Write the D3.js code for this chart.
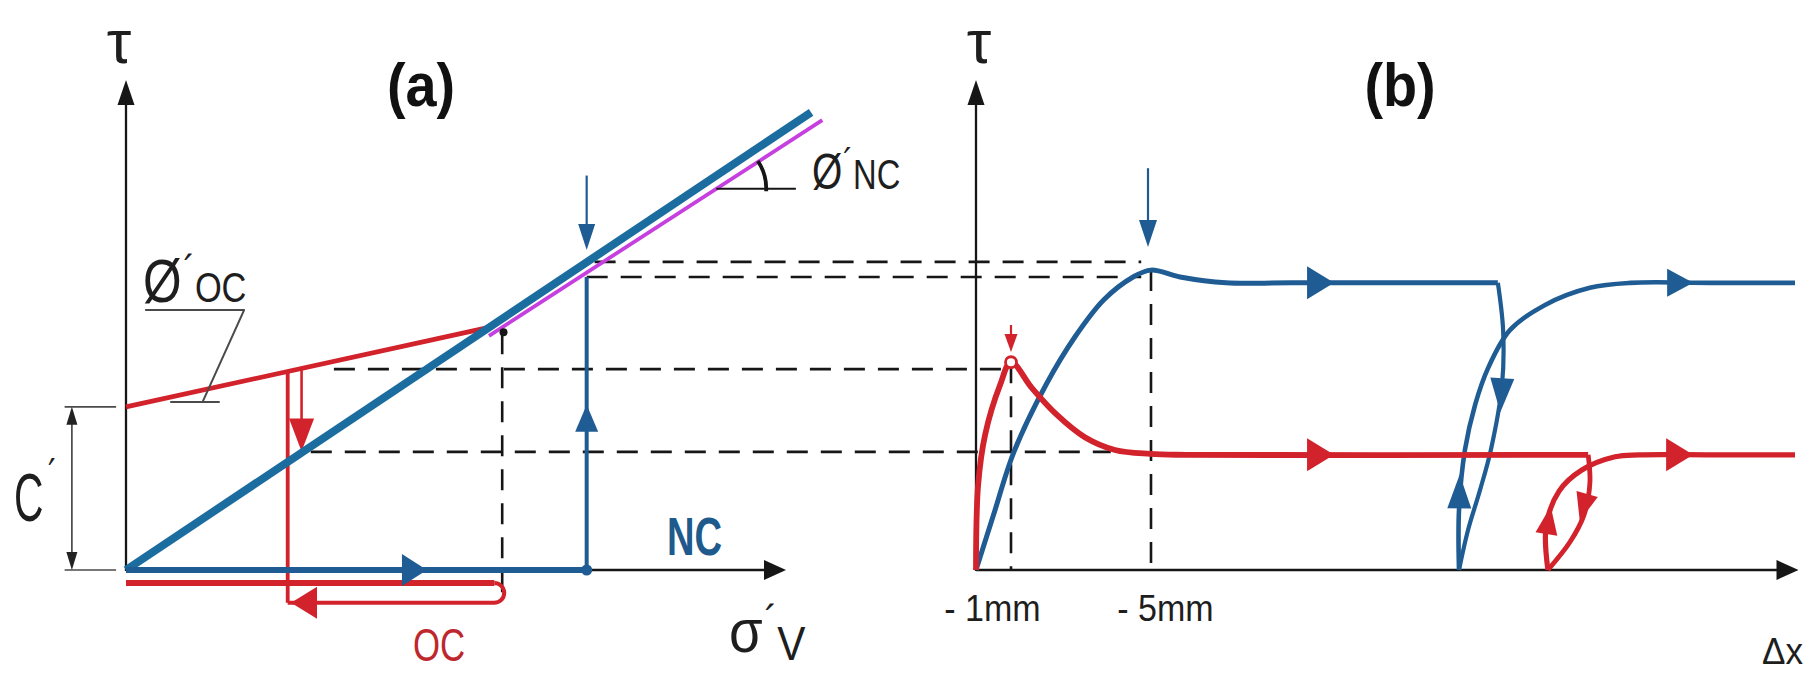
<!DOCTYPE html>
<html>
<head>
<meta charset="utf-8">
<script src="https://cdn.jsdelivr.net/npm/d3@7"></script>
<style>
  html, body { margin: 0; background: #fff; }
  svg { display: block; }
</style>
</head>
<body>
<script>
// ---------------- data ----------------
// Panel (a): shear stress τ versus effective vertical stress σ'v (schematic units)
const ncEnvelope      = [[0, 0], [10.38, 9.34]];        // NC failure envelope (φ'NC)
const ncCriticalLine  = [[5.5, 4.78], [10.55, 9.18]];   // line just under the NC envelope
const ocEnvelope      = [[0, 3.33], [5.5, 4.95]];       // OC envelope, intercept c'
const cPrime          = 3.33;

const ncLoadPath      = [[0, 0], [6.98, 0]];            // NC: consolidation along σ'v
const ncShearPath     = [[6.98, 0], [6.98, 5.98]];      // NC: shearing at constant σ'v
const ocLoadPath      = [[0, -0.265], [5.58, -0.265]];  // OC: loading
const ocUnloadLevel   = -0.67;                          // OC: unloading return line
const ocUnloadFrom    = 2.45;
const ocShearPath     = [[2.45, 4.05], [2.45, -0.67]];  // OC: shearing at constant σ'v
const ocShearInner    = [[2.66, 4.11], [2.66, 3.07]];
const ocPreconsol     = [[5.7, 4.83], [5.7, -0.67]];    // σ'p guide
const ocPreconsolDot  = [5.72, 4.85];

// Horizontal guides running from panel (a) (σ'v) into panel (b) (Δx)
const guideTau    = [6.29, 5.98, 4.10, 2.41];
const guideSigma0 = [7.10, 6.98, 3.15, 2.80];
const guideDx1    = [4.72, 4.72, 1.00, 3.85];

// Panel (b): τ versus shear displacement Δx (mm)
const bTicks      = [1, 5];
const bTickLabels = ["- 1mm", "- 5mm"];

const ncCurve   = [[0, 0], [0.49, 1.1], [1.09, 2.42], [2.0, 3.78], [2.83, 4.76], [3.66, 5.52],
                   [4.49, 5.98], [5.0, 6.12], [5.83, 5.98], [7.14, 5.86], [9.0, 5.86], [14.91, 5.86]];
const ncReverse = [[14.91, 5.86], [15.06, 4.9], [15.03, 3.78], [14.71, 2.45], [14.4, 1.63],
                   [14.06, 0.82], [13.8, 0]];
const ncRepeat  = [[13.8, 0], [13.8, 1.22], [13.97, 2.45], [14.26, 3.37], [14.63, 4.12],
                   [15.26, 4.9], [16.26, 5.41], [17.54, 5.76], [18.69, 5.86], [21, 5.86], [23.4, 5.86]];

const ocCurve   = [[0, 0], [0.06, 1.73], [0.26, 2.76], [0.69, 3.78], [1.0, 4.24], [1.6, 3.71],
                   [2.29, 3.18], [3.11, 2.71], [3.97, 2.45], [4.97, 2.37], [6.0, 2.35], [17.49, 2.35]];
const ocReverse = [[17.49, 2.35], [17.54, 1.78], [17.37, 1.12], [16.97, 0.57], [16.34, 0]];
const ocRepeat  = [[16.34, 0], [16.29, 0.9], [16.66, 1.61], [17.31, 2.04], [18.26, 2.31],
                   [18.94, 2.35], [21, 2.35], [23.4, 2.35]];
const ocPeak    = [1.0, 4.24];
const ncPeakDx  = 5;

// ---------------- drawing ----------------
const W = 1814, H = 676;
const RED = "#d2222b", RED_TXT = "#bf272e", BLUE = "#1f5c94", BLUE_A = "#1b6c9f",
      MAG = "#c640df", INK = "#161616", GREY = "#4a4a4a", TXT = "#1e1e1e";
const FONT = "'Liberation Sans', Arial, Helvetica, sans-serif";

const svg = d3.select("body").append("svg").attr("width", W).attr("height", H)
  .style("background", "#fff");

const xA = d3.scaleLinear().domain([0, 10]).range([126, 786]);
const xB = d3.scaleLinear().domain([0, 23.5]).range([976, 1798.5]);
const y  = d3.scaleLinear().domain([0, 10]).range([570, 80]);

const lineA = d3.line().x(d => xA(d[0])).y(d => y(d[1]));
const lineB = d3.line().x(d => xB(d[0])).y(d => y(d[1])).curve(d3.curveCatmullRom.alpha(0.5));

function stroke(g, d, color, w, extra) {
  const p = g.append("path").attr("d", d).attr("fill", "none").attr("stroke", color)
    .attr("stroke-width", w).attr("stroke-linecap", "butt").attr("stroke-linejoin", "round");
  if (extra) extra(p);
  return p;
}
// filled triangular arrow head; tip and "from" in pixels
function head(g, tip, from, len, wid, color) {
  const a = Math.atan2(tip[1] - from[1], tip[0] - from[0]);
  const bx = tip[0] - len * Math.cos(a), by = tip[1] - len * Math.sin(a);
  const px = -Math.sin(a) * wid / 2, py = Math.cos(a) * wid / 2;
  g.append("path")
    .attr("d", `M${tip[0]},${tip[1]}L${bx + px},${by + py}L${bx - px},${by - py}Z`)
    .attr("fill", color);
}
// text built from parts [string, fontSize, dx, dy]
function txt(x, yy, parts, o) {
  const t = svg.append("text")
    .attr("transform", `translate(${x},${yy}) scale(${o.sx || 1},1)`)
    .attr("text-anchor", o.anchor || "start")
    .attr("font-family", FONT)
    .attr("font-weight", o.weight || "normal")
    .attr("fill", o.color || TXT);
  if (typeof parts === "string") {
    t.attr("font-size", o.size).text(parts);
  } else {
    parts.forEach(([s, fs, dx, dy]) => {
      t.append("tspan").attr("font-size", fs).attr("dx", dx || 0).attr("dy", dy || 0).text(s);
    });
  }
  return t;
}

const gGuide = svg.append("g");
const gAxis  = svg.append("g");
const gA     = svg.append("g");
const gB     = svg.append("g");

// dashed guides
const dash = p => p.attr("stroke-dasharray", "21,13");
guideTau.forEach((t, i) => {
  stroke(gGuide, `M${xA(guideSigma0[i])},${y(t)}H${xB(guideDx1[i])}`, INK, 2.7, dash);
});
stroke(gGuide, lineA(ocPreconsol), INK, 2.6, dash);
stroke(gGuide, `M${xB(1)},${y(ocPeak[1])}V${y(0)}`, INK, 2.6, dash);
stroke(gGuide, `M${xB(ncPeakDx)},${y(6.12)}V${y(0)}`, INK, 2.6, dash);

// axes (arrowed, no ticks)
function axisArrows(x0, x1, yTop) {
  stroke(gAxis, `M${x0},${y(0)}H${x1 - 18}`, INK, 2.6);
  head(gAxis, [x1, y(0)], [x0, y(0)], 22, 20, INK);
  stroke(gAxis, `M${x0},${y(0) + 1}V${yTop + 20}`, INK, 2.3);
  head(gAxis, [x0, yTop], [x0, y(0)], 25, 17, INK);
}
axisArrows(xA(0), xA(10), y(10));
axisArrows(xB(0), xB(23.5), y(10));

// Δx tick labels through a d3 axis
const axB = d3.axisBottom(xB).tickValues(bTicks)
  .tickFormat((d, i) => bTickLabels[i]).tickSize(0);
const gT = gAxis.append("g").attr("transform", `translate(0,${y(0)})`).call(axB);
gT.select(".domain").remove();
const tickShift = [-19, 14];
gT.selectAll("text")
  .attr("font-family", FONT)
  .attr("font-size", 37).attr("fill", TXT)
  .attr("dy", 0).attr("y", 51)
  .attr("transform", (d, i) => `translate(${tickShift[i]},0) scale(0.92,1)`);

// ---- panel (a) ----
// c' dimension
const cx = xA(-0.82);
stroke(gA, `M${xA(-0.93)},${y(cPrime)}H${xA(-0.15)}`, GREY, 1.7);
stroke(gA, `M${xA(-0.93)},${y(0)}H${xA(-0.15)}`, GREY, 1.7);
stroke(gA, `M${cx},${y(cPrime) + 14}V${y(0) - 14}`, GREY, 1.7);
head(gA, [cx, y(cPrime)], [cx, y(0)], 18, 11, "#222");
head(gA, [cx, y(0)], [cx, y(cPrime)], 18, 11, "#222");

// envelopes
stroke(gA, lineA(ncCriticalLine), MAG, 3.8);
stroke(gA, lineA(ocEnvelope), RED, 4.8);

// OC stress path
stroke(gA, lineA(ocLoadPath), RED, 6);
const r = (y(ocUnloadLevel) - y(ocLoadPath[0][1])) / 2;
stroke(gA, `M${xA(ocLoadPath[1][0])},${y(ocLoadPath[1][1])}` +
           `A${r},${r} 0 0 1 ${xA(ocLoadPath[1][0])},${y(ocUnloadLevel)}` +
           `H${xA(ocUnloadFrom)}`, RED, 4);
stroke(gA, lineA(ocShearPath), RED, 3.8);
stroke(gA, lineA(ocShearInner), RED, 2.6);
head(gA, [xA(ocShearInner[0][0]), y(2.42)], [xA(ocShearInner[0][0]), y(4)], 33, 25, RED);
head(gA, [xA(2.5), y(ocUnloadLevel)], [xA(4), y(ocUnloadLevel)], 26, 32, RED);

// NC envelope on top
stroke(gA, lineA(ncEnvelope), BLUE_A, 8);

// NC stress path
stroke(gA, lineA(ncLoadPath), BLUE, 5.8);
stroke(gA, lineA(ncShearPath), BLUE, 4);
head(gA, [xA(4.56), y(0)], [xA(3), y(0)], 25, 32, BLUE);
head(gA, [xA(6.98), y(3.37)], [xA(6.98), y(2)], 27, 23, BLUE);
gA.append("circle").attr("cx", xA(6.98)).attr("cy", y(0)).attr("r", 5.5).attr("fill", BLUE);
gA.append("circle").attr("cx", xA(ocPreconsolDot[0])).attr("cy", y(ocPreconsolDot[1]))
  .attr("r", 4).attr("fill", INK);

// peak marker arrow (a)
stroke(gA, `M${xA(6.98)},${y(8.05)}V${y(6.53) - 20}`, BLUE, 2.2);
head(gA, [xA(6.98), y(6.53)], [xA(6.98), y(8)], 26, 17, BLUE);

// φ'OC annotation
stroke(gA, `M${xA(0.29)},310H${xA(1.79)}L${xA(1.16)},402`, GREY, 1.9);
stroke(gA, `M${xA(0.67)},402H${xA(1.42)}`, GREY, 1.9);
// φ'NC annotation: horizontal reference and angle arc
const tauRef = 7.78;
const sRef = ncCriticalLine[0][0] + (tauRef - ncCriticalLine[0][1]) *
  (ncCriticalLine[1][0] - ncCriticalLine[0][0]) / (ncCriticalLine[1][1] - ncCriticalLine[0][1]);
const acx = xA(sRef), acy = y(tauRef);
stroke(gA, `M${acx},${acy}H${xA(10.15)}`, INK, 2.1);
const ang = Math.atan2(y(ncEnvelope[1][1]) - y(0), xA(ncEnvelope[1][0]) - xA(0));
const R = 50;
stroke(gA, `M${acx + R * Math.cos(ang)},${acy + R * Math.sin(ang)}` +
           `A${R},${R} 0 0 1 ${acx + R * Math.cos(0.05)},${acy + R * Math.sin(0.05)}`, INK, 3.8);

// ---- panel (b) ----
stroke(gB, lineB(ncCurve), BLUE, 5);
stroke(gB, lineB(ncReverse), BLUE, 4.2);
stroke(gB, lineB(ncRepeat), BLUE, 4.6);
stroke(gB, lineB(ocCurve), RED, 5.8);
stroke(gB, lineB(ocReverse), RED, 4.8);
stroke(gB, lineB(ocRepeat), RED, 5.2);

const P = d => [xB(d[0]), y(d[1])];
// direction heads along the curves
head(gB, P([10.23, 5.86]), P([8, 5.86]), 27, 33, BLUE);
head(gB, P([20.49, 5.86]), P([18, 5.86]), 26, 28, BLUE);
head(gB, P([10.23, 2.35]), P([8, 2.35]), 27, 33, RED);
head(gB, P([20.49, 2.35]), P([18, 2.35]), 27, 33, RED);
head(gB, P([14.98, 3.22]), P([15.06, 4.2]), 34, 24, BLUE);
head(gB, P([13.82, 1.95]), P([13.8, 0.8]), 34, 24, BLUE);
head(gB, P([17.25, 1.0]), P([17.48, 1.6]), 28, 22, RED);
head(gB, P([16.42, 1.3]), P([16.29, 0.7]), 28, 22, RED);

// peak markers (b)
stroke(gB, `M${xB(ncPeakDx) - 3},${y(8.2)}V${y(6.59) - 20}`, BLUE, 2.2);
head(gB, [xB(ncPeakDx) - 3, y(6.59)], [xB(ncPeakDx) - 3, y(8)], 27, 18, BLUE);
stroke(gB, `M${xB(ocPeak[0])},${y(5.0)}V${y(4.45) - 12}`, RED, 2.2);
head(gB, [xB(ocPeak[0]), y(4.45)], [xB(ocPeak[0]), y(5)], 18, 13, RED);
gB.append("circle").attr("cx", xB(ocPeak[0])).attr("cy", y(ocPeak[1])).attr("r", 5.5)
  .attr("fill", "#fff").attr("stroke", RED).attr("stroke-width", 2.8);

// ---------------- text ----------------
txt(119, 63, "τ", { size: 62, anchor: "middle" });
txt(979, 63, "τ", { size: 62, anchor: "middle" });
txt(421, 106, "(a)", { size: 62, weight: "bold", anchor: "middle", sx: 0.9, color: "#111" });
txt(1400, 106, "(b)", { size: 62, weight: "bold", anchor: "middle", sx: 0.9, color: "#111" });

// φ'OC
txt(143, 302, [["Ø", 62], ["´", 44, 2, -16], ["OC", 43, 0, 16]], { sx: 0.8 });
// φ'NC
txt(812, 189, [["Ø", 50], ["´", 38, 1, -13], ["NC", 42, 0, 13]], { sx: 0.78 });
// c'
txt(14, 521, [["C", 68], ["´", 46, 7, -29]], { sx: 0.6 });
// σ'v
txt(729, 652, [["σ", 62], ["´", 44, 2, -16], ["V", 48, 0, 24]], { sx: 0.88 });

txt(667, 555, "NC", { size: 53, weight: "bold", sx: 0.72, color: "#1f5a8c" });
txt(413, 661, "OC", { size: 47, sx: 0.74, color: RED_TXT });

txt(1762, 664, "Δx", { size: 37, sx: 0.95 });
</script>
</body>
</html>
